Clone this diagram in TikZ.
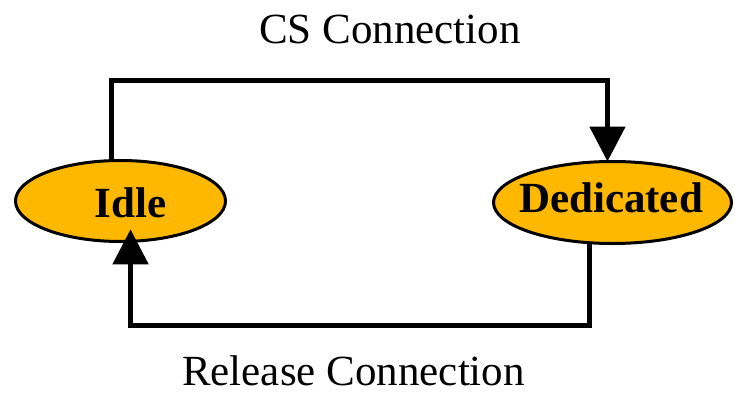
\documentclass[tikz,border=0pt]{standalone}
\usepackage{fontspec}
\setmainfont{Liberation Serif}
\usetikzlibrary{shapes.geometric,arrows.meta,calc}
\definecolor{stateorange}{RGB}{255,184,0}
\tikzset{
  state/.style={ellipse, draw=black, line width=3pt, fill=stateorange,
                inner sep=0pt, outer sep=0pt},
  statelabel/.style={font=\fontsize{43}{50}\selectfont\bfseries, anchor=base, inner sep=0pt},
  edgelabel/.style={font=\fontsize{43}{50}\selectfont, anchor=base, inner sep=0pt},
  conn/.style={line width=5pt, -{Triangle[length=35pt,width=35pt]}}
}
\begin{document}
\begin{tikzpicture}[x=1pt,y=-1pt]
\path[use as bounding box] (0,0) rectangle (735,393);

% states
\node[state, minimum width=210pt, minimum height=81pt] (idle) at (120.5,201) {};
\node[state, minimum width=238pt, minimum height=82pt] (ded) at (612.5,202.5) {};
\node[statelabel] (idletext) at (130.5,217) {Idle};
\node[statelabel] (dedtext) at (611,212) {Dedicated};

% routing points of the two transitions
\coordinate (toprail) at (360,81);
\coordinate (bottomrail) at (360,325);

% transitions
\draw[conn] (idle.102) |- (toprail) -| (ded.97);
\draw[conn] (ded.240) |- (bottomrail) -| ($(idle.284)+(0,-12)$);

% transition labels
\node[edgelabel] (cslabel) at (390,44) {CS Connection};
\node[edgelabel] (rellabel) at (353.5,385) {Release Connection};
\end{tikzpicture}
\end{document}
